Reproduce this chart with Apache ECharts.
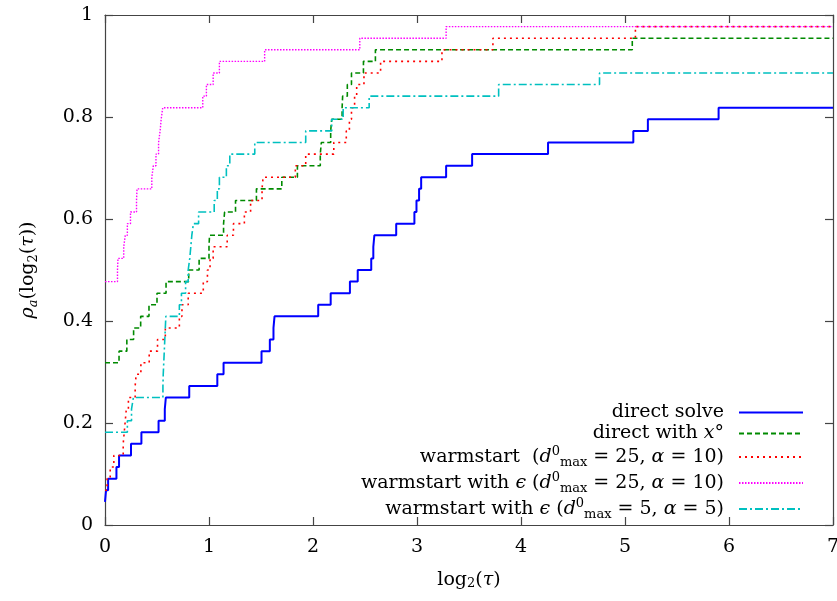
<!DOCTYPE html>
<html>
<head>
<meta charset="UTF-8">
<title>performance profile</title>
<script src="https://cdn.jsdelivr.net/npm/echarts@6.0.0/dist/echarts.min.js"></script>
<style>
  html, body { margin: 0; padding: 0; background: #fff; }
  #chart { width: 837px; height: 601px; }
</style>
</head>
<body>
<div id="chart"></div>
<script>
// test set size: profile value = problems solved / nProblems
const nProblems = 44;
const tauMax = 7;

// log2(tau) where each curve steps up, and number of problems solved from that point
const directT     = [0, 0.01, 0.03, 0.11, 0.135, 0.25, 0.35, 0.515, 0.575, 0.585, 0.81, 1.08, 1.14, 1.505, 1.585, 1.62, 1.63, 2.05, 2.17, 2.355, 2.43, 2.56, 2.58, 2.59, 2.80, 2.975, 2.995, 3.02, 3.04, 3.28, 3.53, 4.26, 5.08, 5.22, 5.90];
const directCount = [2, 3, 4, 5, 6, 7, 8, 9, 10, 11, 12, 13, 14, 15, 16, 17, 18, 19, 20, 21, 22, 23, 24, 25, 26, 27, 28, 29, 30, 31, 32, 33, 34, 35, 36];

const directXT     = [0, 0.135, 0.21, 0.275, 0.343, 0.423, 0.50, 0.587, 0.805, 0.905, 1.0, 1.005, 1.14, 1.15, 1.255, 1.456, 1.70, 1.85, 2.07, 2.08, 2.17, 2.18, 2.28, 2.285, 2.33, 2.37, 2.485, 2.60, 5.07];
const directXCount = [14, 15, 16, 17, 18, 19, 20, 21, 22, 23, 24, 25, 26, 27, 28, 29, 30, 31, 32, 33, 34, 35, 36, 37, 38, 39, 40, 41, 42];

const warmT     = [0, 0.02, 0.05, 0.085, 0.175, 0.185, 0.195, 0.205, 0.225, 0.29, 0.30, 0.345, 0.425, 0.505, 0.58, 0.715, 0.74, 0.80, 0.945, 0.985, 1.01, 1.04, 1.175, 1.235, 1.34, 1.40, 1.51, 1.52, 1.83, 1.93, 2.20, 2.32, 2.35, 2.37, 2.40, 2.42, 2.49, 2.65, 3.24, 3.73, 5.10];
const warmCount = [3, 4, 5, 6, 7, 8, 9, 10, 11, 12, 13, 14, 15, 16, 17, 18, 19, 20, 21, 22, 23, 24, 25, 26, 27, 28, 29, 30, 31, 32, 33, 34, 35, 36, 37, 38, 39, 40, 41, 42, 43];

const warmEpsT     = [0, 0.12, 0.125, 0.18, 0.195, 0.215, 0.245, 0.303, 0.308, 0.45, 0.465, 0.49, 0.515, 0.53, 0.54, 0.555, 0.94, 0.975, 1.04, 1.10, 1.535, 2.45, 3.28];
const warmEpsCount = [21, 22, 23, 24, 25, 26, 27, 28, 29, 30, 31, 32, 33, 34, 35, 36, 37, 38, 39, 40, 41, 42, 43];

const warmEps5T     = [0, 0.215, 0.255, 0.273, 0.557, 0.56, 0.565, 0.57, 0.575, 0.58, 0.585, 0.715, 0.735, 0.775, 0.80, 0.815, 0.825, 0.835, 0.85, 0.90, 1.05, 1.08, 1.10, 1.167, 1.20, 1.44, 1.93, 2.18, 2.29, 2.54, 3.785, 4.755];
const warmEps5Count = [8, 9, 10, 11, 12, 13, 14, 15, 16, 17, 18, 19, 20, 21, 22, 23, 24, 25, 26, 27, 28, 29, 30, 31, 32, 33, 34, 35, 36, 37, 38, 39];

const seriesNames = ['direct solve', 'direct with x', 'warmstart 25/10', 'warmstart eps 25/10', 'warmstart eps 5/5'];
// legend text, as rich text
const legendLabels = [
  '{n|direct solve}',
  '{n|direct with }{i|x}{n|°}',
  '{n|warmstart  (}{i|d}{sup|0}{sub|max}{n| = 25, }{i|α}{n| = 10)}',
  '{n|warmstart with }{i|ϵ}{n| (}{i|d}{sup|0}{sub|max}{n| = 25, }{i|α}{n| = 10)}',
  '{n|warmstart with }{i|ϵ}{n| (}{i|d}{sup|0}{sub|max}{n| = 5, }{i|α}{n| = 5)}'
];

const serif = 'DejaVu Serif';
const axisColor = '#444';

function profile(ts, counts) {
  const pts = ts.map((t, i) => [t, counts[i] / nProblems]);
  pts.push([tauMax, counts[counts.length - 1] / nProblems]);
  return pts;
}

function richStyles(size) {
  return {
    n: { fontFamily: serif, fontSize: size, lineHeight: 24, color: '#000' },
    i: { fontFamily: serif, fontStyle: 'italic', fontSize: size, lineHeight: 24, color: '#000' },
    sup: { fontFamily: serif, fontSize: 13, lineHeight: 13, verticalAlign: 'top', color: '#000' },
    sub: { fontFamily: serif, fontSize: 13, lineHeight: 13, verticalAlign: 'bottom', color: '#000' }
  };
}

function line(idx, data, color, width, type) {
  return {
    name: seriesNames[idx],
    type: 'line',
    step: 'end',
    data: data,
    symbol: 'none',
    showSymbol: false,
    animation: false,
    itemStyle: { color: color },
    lineStyle: { color: color, width: width, type: type }
  };
}

const chart = echarts.init(document.getElementById('chart'));

const frameAxis = {
  axisLine: { show: true, onZero: false, lineStyle: { color: axisColor, width: 1.2 } },
  axisTick: { show: true, inside: true, length: 8, lineStyle: { color: axisColor, width: 1.2 } },
  splitLine: { show: false }
};

chart.setOption({
  animation: false,
  backgroundColor: '#fff',
  grid: { left: 105, right: 4, top: 15, bottom: 76, outerBoundsMode: 'none' },
  xAxis: [
    Object.assign({
      type: 'value', min: 0, max: tauMax, interval: 1, position: 'bottom',
      axisLabel: { fontFamily: serif, fontSize: 19, color: '#000', margin: 13 },
      name: '{n|log}{s|2}{n|(}{i|τ}{n|)}',
      nameLocation: 'middle',
      nameGap: 46,
      nameTextStyle: {
        rich: {
          n: { fontFamily: serif, fontSize: 19, color: '#000' },
          i: { fontFamily: serif, fontStyle: 'italic', fontSize: 19, color: '#000' },
          s: { fontFamily: serif, fontSize: 13, color: '#000', verticalAlign: 'bottom', lineHeight: 13 }
        }
      }
    }, frameAxis),
    Object.assign({
      type: 'value', min: 0, max: tauMax, interval: 1, position: 'top',
      axisLabel: { show: false }
    }, frameAxis)
  ],
  yAxis: [
    Object.assign({
      type: 'value', min: 0, max: 1, interval: 0.2, position: 'left',
      axisLabel: { fontFamily: serif, fontSize: 19, color: '#000', margin: 12 },
      name: '{i|ρ}{si|a}{n|(log}{s|2}{n|(}{i|τ}{n|))}',
      nameLocation: 'middle',
      nameRotate: 90,
      nameGap: 65,
      nameTextStyle: {
        rich: {
          n: { fontFamily: serif, fontSize: 19, color: '#000', lineHeight: 24 },
          i: { fontFamily: serif, fontStyle: 'italic', fontSize: 19, color: '#000', lineHeight: 24 },
          s: { fontFamily: serif, fontSize: 13, color: '#000', verticalAlign: 'bottom', lineHeight: 13 },
          si: { fontFamily: serif, fontStyle: 'italic', fontSize: 13, color: '#000', verticalAlign: 'bottom', lineHeight: 13 }
        }
      }
    }, frameAxis),
    Object.assign({
      type: 'value', min: 0, max: 1, interval: 0.2, position: 'right',
      axisLabel: { show: false }
    }, frameAxis)
  ],
  legend: {
    orient: 'vertical',
    right: 28,
    top: 398,
    align: 'right',
    itemWidth: 64,
    itemHeight: 14,
    itemGap: 2,
    selectedMode: false,
    data: seriesNames,
    itemStyle: { opacity: 0 },
    formatter: name => legendLabels[seriesNames.indexOf(name)],
    textStyle: { padding: [0, 10, 0, 0], rich: richStyles(19) }
  },
  series: [
    line(0, profile(directT, directCount), '#0000ff', 2, 'solid'),
    line(1, profile(directXT, directXCount), '#008a00', 1.6, [5, 3]),
    line(2, profile(warmT, warmCount), '#ff0000', 1.6, [2, 4]),
    line(3, profile(warmEpsT, warmEpsCount), '#ff00ff', 1.4, [1.5, 1.5]),
    line(4, profile(warmEps5T, warmEps5Count), '#00c0c0', 1.6, [8, 3, 2, 3])
  ]
});
</script>
</body>
</html>
